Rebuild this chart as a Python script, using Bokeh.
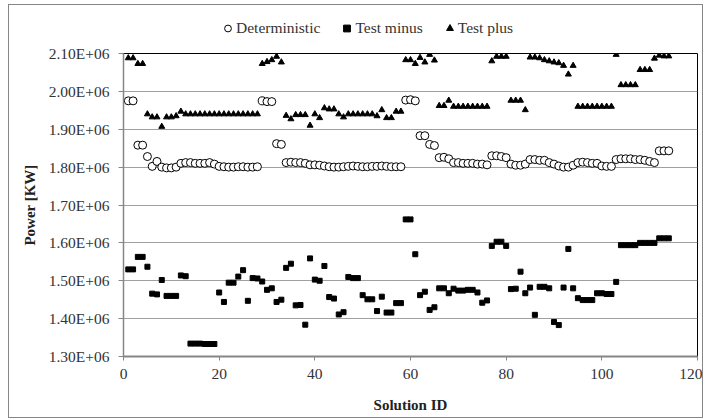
from bokeh.plotting import figure
from bokeh.layouts import column
from bokeh.models import Range1d, FixedTicker, Legend, LegendItem
from bokeh.embed import file_html
from bokeh.resources import INLINE

# ---- data (values in millions of kW) ----
solution_id = list(range(1, 115))

deterministic_m = [
    1.975, 1.975, 1.858, 1.858, 1.828, 1.802, 1.815, 1.800, 1.798, 1.798,
    1.800, 1.810, 1.812, 1.812, 1.810, 1.810, 1.810, 1.812, 1.808, 1.802,
    1.801, 1.800, 1.800, 1.801, 1.801, 1.800, 1.800, 1.801,
    1.975, 1.973, 1.973,
    1.862, 1.860,
    1.812, 1.813, 1.812, 1.812, 1.810,
    1.806, 1.806, 1.805,
    1.803, 1.801, 1.800, 1.800, 1.801, 1.802, 1.803, 1.802, 1.801, 1.801,
    1.802, 1.802, 1.803, 1.802, 1.801, 1.801, 1.801,
    1.977, 1.978, 1.975,
    1.883, 1.883,
    1.860, 1.857,
    1.825, 1.826, 1.822,
    1.812, 1.812, 1.810, 1.810, 1.810, 1.808, 1.808, 1.806,
    1.830, 1.830, 1.828, 1.825,
    1.808, 1.805, 1.805, 1.808,
    1.820, 1.820, 1.818, 1.818,
    1.812, 1.808, 1.803, 1.800,
    1.800, 1.805,
    1.812, 1.813, 1.812, 1.810, 1.810,
    1.803, 1.802, 1.802,
    1.820, 1.822, 1.822, 1.822, 1.820, 1.820, 1.818, 1.815,
    1.812,
    1.843, 1.843, 1.843,
]

test_minus_m = [
    1.530, 1.530, 1.563, 1.563, 1.537, 1.466, 1.464, 1.502, 1.460, 1.460,
    1.460, 1.514, 1.512, 1.334, 1.334, 1.334, 1.333, 1.333, 1.333, 1.469,
    1.444, 1.495, 1.495, 1.511, 1.528, 1.447, 1.507, 1.506, 1.498, 1.476,
    1.480, 1.444, 1.450, 1.534, 1.545, 1.435, 1.436, 1.384, 1.559, 1.503,
    1.500, 1.539, 1.457, 1.453, 1.411, 1.417, 1.510, 1.507, 1.507, 1.462,
    1.451, 1.451, 1.420, 1.458, 1.416, 1.416, 1.441, 1.441, 1.662, 1.662,
    1.570, 1.462, 1.471, 1.423, 1.430, 1.480, 1.480, 1.467, 1.479, 1.474,
    1.474, 1.476, 1.476, 1.469, 1.442, 1.448, 1.592, 1.603, 1.603, 1.592,
    1.478, 1.479, 1.524, 1.467, 1.482, 1.410, 1.484, 1.484, 1.480, 1.391,
    1.383, 1.482, 1.584, 1.480, 1.454, 1.449, 1.449, 1.449, 1.467, 1.467,
    1.465, 1.465, 1.497, 1.594, 1.594, 1.594, 1.594, 1.600, 1.600, 1.600,
    1.600, 1.612, 1.612, 1.612,
]

test_plus_m = [
    2.088, 2.088, 2.073, 2.073,
    1.940, 1.932, 1.932, 1.907, 1.932, 1.932, 1.935, 1.947,
    1.940, 1.940, 1.940, 1.940, 1.940, 1.940, 1.940, 1.940,
    1.940, 1.940, 1.940, 1.940, 1.940, 1.940, 1.940, 1.940,
    2.073, 2.078, 2.083, 2.092, 2.077,
    1.936, 1.927, 1.938, 1.938, 1.938,
    1.910,
    1.940, 1.930,
    1.956, 1.953, 1.953,
    1.940,
    1.932,
    1.940, 1.940, 1.940, 1.940, 1.940, 1.940,
    1.935,
    1.951,
    1.930, 1.930,
    1.947, 1.947,
    2.083, 2.083, 2.073, 2.089, 2.077, 2.097, 2.082,
    1.962, 1.962,
    1.976,
    1.960, 1.960, 1.960, 1.960, 1.960, 1.960, 1.960, 1.960,
    2.080,
    2.092, 2.092, 2.092,
    1.976, 1.976, 1.976,
    1.951,
    2.090, 2.090, 2.088, 2.083, 2.080, 2.077, 2.075, 2.068, 2.045, 2.068,
    1.960, 1.960, 1.960, 1.960, 1.960, 1.960, 1.960, 1.960,
    2.097,
    2.017, 2.017, 2.017, 2.017,
    2.057, 2.057, 2.057,
    2.087, 2.095, 2.093, 2.093,
]

series_names = ["Deterministic", "Test minus", "Test plus"]

y_ticks = [1.30e6, 1.40e6, 1.50e6, 1.60e6, 1.70e6, 1.80e6, 1.90e6, 2.00e6, 2.10e6]
y_tick_labels = ["1.30E+06", "1.40E+06", "1.50E+06", "1.60E+06", "1.70E+06",
                 "1.80E+06", "1.90E+06", "2.00E+06", "2.10E+06"]
x_ticks = [0, 20, 40, 60, 80, 100, 120]

deterministic = [v * 1e6 for v in deterministic_m]
test_minus = [v * 1e6 for v in test_minus_m]
test_plus = [v * 1e6 for v in test_plus_m]

FONT = "Liberation Serif"
FS = "15.5px"

det_style = dict(marker="circle", size=8, fill_color="white", line_color="black", line_width=1)
minus_style = dict(marker="square", size=5, fill_color="black", line_color="black")
plus_style = dict(marker="triangle", size=6, fill_color="black", line_color="black")

# ---- main chart ----
p = figure(width=693, height=374, output_backend="svg", toolbar_location=None,
           x_range=Range1d(0, 120), y_range=Range1d(1.30e6, 2.10e6),
           min_border_left=114, min_border_right=5, min_border_top=10,
           min_border_bottom=61)

p.outline_line_color = "black"
p.outline_line_width = 1
p.xgrid.grid_line_color = None
p.ygrid.grid_line_color = "#a0a0a0"
p.ygrid.grid_line_width = 1

p.yaxis.ticker = FixedTicker(ticks=y_ticks)
p.yaxis.major_label_overrides = dict(zip(y_ticks, y_tick_labels))
p.xaxis.ticker = FixedTicker(ticks=x_ticks)

for ax in (p.xaxis[0], p.yaxis[0]):
    ax.major_label_text_font = FONT
    ax.major_label_text_font_size = FS
    ax.major_label_text_color = "#333333"
    ax.axis_label_text_font = FONT
    ax.axis_label_text_font_size = "15px"
    ax.axis_label_text_font_style = "bold"
    ax.axis_label_text_color = "#222222"
    ax.minor_tick_line_color = None
    ax.major_tick_in = 0
    ax.major_tick_line_color = "#868686"
    ax.axis_line_color = "#868686"

p.xaxis.axis_label = "Solution ID"
p.yaxis.axis_label = "Power [KW]"
p.xaxis.major_tick_out = 4
p.yaxis.major_tick_out = 5
p.xaxis.axis_line_width = 2
p.yaxis.axis_line_width = 1.5
p.xaxis.major_label_standoff = 8
p.yaxis.major_label_standoff = 9
p.xaxis.axis_label_standoff = 15
p.yaxis.axis_label_standoff = 8

p.scatter(solution_id, deterministic, **det_style)
p.scatter(solution_id, test_minus, **minus_style)
p.scatter(solution_id, test_plus, **plus_style)

# ---- legend strip above the chart (its frame aligns with the chart frame) ----
lg = figure(width=693, height=38, output_backend="svg", toolbar_location=None,
            x_range=Range1d(0, 1), y_range=Range1d(0, 1),
            min_border_left=0, min_border_right=0, min_border_top=0,
            min_border_bottom=0, outline_line_color=None)
lg.axis.visible = False
lg.grid.visible = False
# legend-only renderers: one point each, placed outside the visible range
l_det = lg.scatter([-10], [-10], **det_style)
l_minus = lg.scatter([-10], [-10], **minus_style)
l_plus = lg.scatter([-10], [-10], **plus_style)

legend = Legend(items=[LegendItem(label=series_names[0], renderers=[l_det]),
                       LegendItem(label=series_names[1], renderers=[l_minus]),
                       LegendItem(label=series_names[2], renderers=[l_plus])],
                location=(96, 6), orientation="horizontal",
                padding=0, margin=0, spacing=18, label_standoff=0,
                glyph_width=17, glyph_height=18, label_height=18,
                label_text_font=FONT, label_text_font_size=FS,
                label_text_color="#333333",
                border_line_color=None, background_fill_alpha=0)
lg.add_layout(legend, "center")

layout = column(lg, p, spacing=0)
layout.styles = {"border": "1px solid #868686", "margin": "4px 0px 0px 8px"}

open("out.html", "w").write(file_html(layout, INLINE))
